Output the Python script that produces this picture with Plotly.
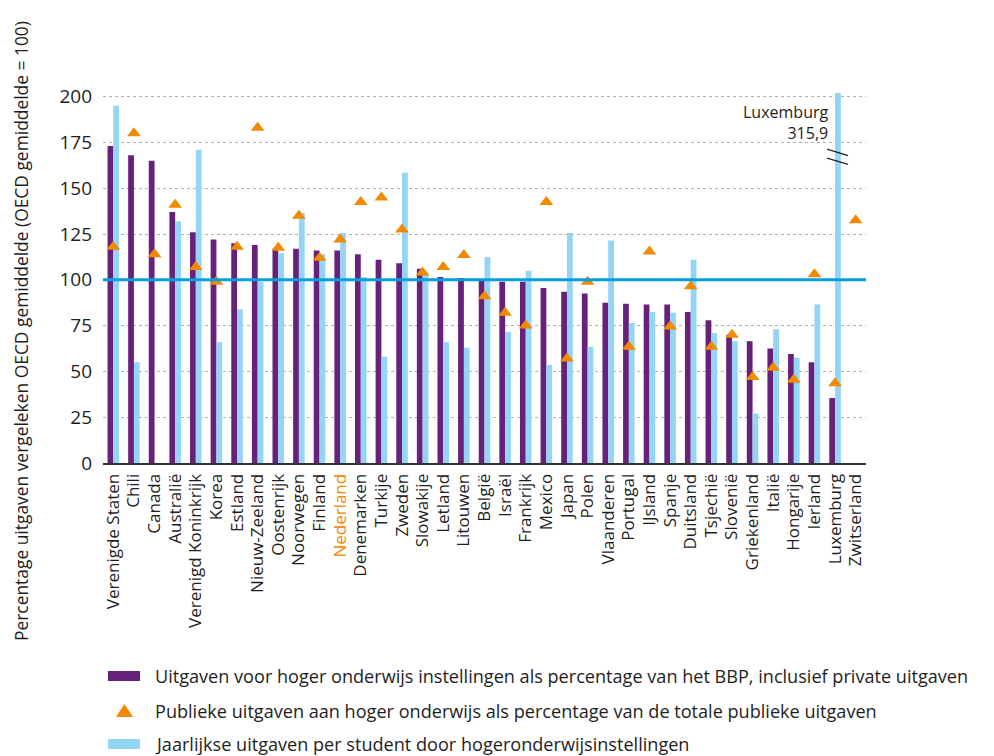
import plotly.graph_objects as go

countries = ["Verenigde Staten", "Chili", "Canada", "Australië", "Verenigd Koninkrijk", "Korea",
             "Estland", "Nieuw-Zeeland", "Oostenrijk", "Noorwegen", "Finland", "Nederland",
             "Denemarken", "Turkije", "Zweden", "Slowakije", "Letland", "Litouwen", "België",
             "Israël", "Frankrijk", "Mexico", "Japan", "Polen", "Vlaanderen", "Portugal",
             "IJsland", "Spanje", "Duitsland", "Tsjechië", "Slovenië", "Griekenland", "Italië",
             "Hongarije", "Ierland", "Luxemburg", "Zwitserland"]

# Uitgaven hoger onderwijs instellingen als % BBP (incl. private)
bbp = [173, 168, 165, 137, 126, 122, 120, 119, 117, 117, 116, 116, 114, 111, 109, 106, 101.5,
       101, 99.5, 99, 99, 95.5, 93.5, 92.5, 87.5, 87, 86.5, 86.5, 82.5, 78, 70, 66.5, 62.5,
       59.5, 55, 35.5, None]
# Publieke uitgaven hoger onderwijs als % totale publieke uitgaven
publiek = [118, 180, 114, 141, 107, 99, 118, 183, 117.5, 135, 112, 122, 142.5, 145, 127.5,
           104, 107, 113.5, 91, 82, 75, 142.5, 57, 99, None, 63.5, 115.5, 74.5, 96.5, 63.5,
           70, 47, 52, 45.5, 103, 43.5, 132.5]
# Jaarlijkse uitgaven per student
student = [195, 55, None, 132, 171, 66, 84, 99, 114.5, 136.5, 114, 125.5, 101.5, 58, 158.5,
           103.5, 66, 63, 112.5, 71.5, 105, 53.5, 125.5, 63.5, 121.5, 76.5, 82.5, 82, 111,
           71, 66.5, 27, 73, 57.5, 86.5, 315.9, None]

legend_labels = [
    "Uitgaven voor hoger onderwijs instellingen als percentage van het BBP, inclusief private uitgaven",
    "Publieke uitgaven aan hoger onderwijs als percentage van de totale publieke uitgaven",
    "Jaarlijkse uitgaven per student door hogeronderwijsinstellingen",
]

PURPLE = "#68217a"
LIGHT = "#94d4f4"
ORANGE = "#f08a00"
LINE = "#009fe0"
TXT = "#1e1e1e"
FONT = "Open Sans"

# page has an 8px body margin; figure sized so that it fits the 994x756 window
OFF = 8
W, H = 994 - OFF, 756 - OFF
# plot area in window pixels: x 103..866, y 93..463
L, T = 103 - OFF, 93 - OFF
R, B = W - (866 - OFF), H - (463 - OFF)
PW, PH = W - L - R, H - T - B


def px(x):
    return (x - OFF - L) / PW


def py(y):
    return (H - B - (y - OFF)) / PH


ticktext = [f'<span style="color:{ORANGE}">{c}</span>' if c == "Nederland" else c for c in countries]

fig = go.Figure()
fig.add_trace(go.Bar(x=countries, y=bbp, marker_color=PURPLE, marker_line_width=0,
                     name=legend_labels[0], showlegend=False))
fig.add_trace(go.Scatter(x=countries, y=publiek, mode="markers",
                         marker=dict(symbol="triangle-up", size=12, color=ORANGE),
                         name=legend_labels[1], showlegend=False))
fig.add_trace(go.Bar(x=countries, y=student, marker_color=LIGHT, marker_line_width=0,
                     name=legend_labels[2], showlegend=False))

# OECD average line
fig.add_shape(type="line", xref="paper", yref="y", x0=0, x1=1, y0=100, y1=100,
              line=dict(color=LINE, width=3), layer="above")

# axis break marks on the Luxembourg bar
lux = countries.index("Luxemburg")
for y0, y1 in ((171.4, 167.8), (166.4, 163.0)):
    fig.add_shape(type="line", xref="x", yref="y",
                  x0=lux - 0.39, x1=lux + 0.63, y0=y0, y1=y1,
                  line=dict(color="#222222", width=1.3), layer="above")

fig.add_annotation(x=px(830), y=py(99), xref="paper", yref="paper", text="Luxemburg<br>315,9",
                   showarrow=False, xanchor="right", yanchor="top", align="right",
                   font=dict(family=FONT, size=16, color=TXT))

fig.add_annotation(x=px(21), y=py(331), xref="paper", yref="paper",
                   text="Percentage uitgaven vergeleken OECD gemiddelde (OECD gemiddelde = 100)",
                   textangle=-90, showarrow=False, xanchor="center", yanchor="middle",
                   font=dict(family=FONT, size=17.4, color=TXT))

# manual legend
rows = [676, 711, 744]
fig.add_shape(type="rect", xref="paper", yref="paper", x0=px(108), x1=px(140),
              y0=py(rows[0] + 5), y1=py(rows[0] - 5), fillcolor=PURPLE, line_width=0)
fig.add_shape(type="path", xref="paper", yref="paper",
              path=f"M {px(116)} {py(rows[1] + 6)} L {px(133)} {py(rows[1] + 6)} L {px(124.5)} {py(rows[1] - 7)} Z",
              fillcolor=ORANGE, line_width=0)
fig.add_shape(type="rect", xref="paper", yref="paper", x0=px(108), x1=px(140),
              y0=py(rows[2] + 5), y1=py(rows[2] - 5), fillcolor=LIGHT, line_width=0)
for ry, lab in zip(rows, legend_labels):
    fig.add_annotation(x=px(153), y=py(ry), xref="paper", yref="paper", text=lab,
                       showarrow=False, xanchor="left", yanchor="middle",
                       font=dict(family=FONT, size=18.1, color=TXT))

fig.update_layout(
    width=W, height=H,
    margin=dict(l=L, r=R, t=T, b=B, autoexpand=False),
    paper_bgcolor="white", plot_bgcolor="white",
    barmode="group", bargap=0.44, bargroupgap=0,
    font=dict(family=FONT, size=15, color=TXT),
    showlegend=False,
    xaxis=dict(tickmode="array", tickvals=countries, ticktext=ticktext, tickangle=-90,
               tickfont=dict(family=FONT, size=17, color=TXT),
               showgrid=False, showline=True, linecolor="#333333", linewidth=2,
               ticks="", ticklabelstandoff=2, range=[-0.5, len(countries) - 0.5]),
    yaxis=dict(range=[0, 202], tickmode="array", tickvals=[0, 25, 50, 75, 100, 125, 150, 175, 200],
               showgrid=True, gridcolor="#b0b0b0", griddash="dot", gridwidth=1,
               zeroline=False, showline=False, ticks="", ticklabelstandoff=10,
               tickfont=dict(family=FONT, size=19, color=TXT)),
)

fig.write_html("out.html")
